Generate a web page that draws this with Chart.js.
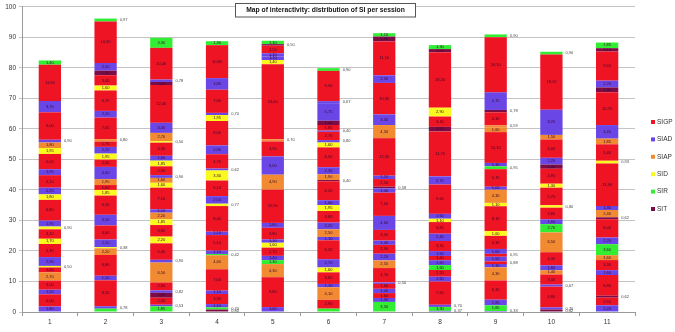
<!DOCTYPE html>
<html>
<head>
<meta charset="utf-8">
<script src="https://cdn.jsdelivr.net/npm/chart.js@4"></script>
<style>
  body { margin: 0; background: #fff; }
  canvas { display: block; }
</style>
</head>
<body>
<canvas id="chart" width="675" height="332"></canvas>
<script>
const sessions = ['1', '2', '3', '4', '5', '6', '7', '8', '9', '10', '11'];
const yTicks = [0, 10, 20, 30, 40, 50, 60, 70, 80, 90, 100];

// segment types, bottom to top: G=SIGP A=SIAD P=SIAP D=SID R=SIR T=SIT
const categoryNames = ['SIGP', 'SIAD', 'SIAP', 'SID', 'SIR', 'SIT'];
const categoryCodes = ['G', 'A', 'P', 'D', 'R', 'T'];
const categoryColors = ['#ee1424', '#6a46e6', '#f28a32', '#fafa1e', '#32ee32', '#7c0c46'];

const s1 = [1.8, 4.0, 1.5, 3.0, 2.7, 1.6, 0.5, 2.9, 4.3, 1.7, 3.1, 0.9, 1.95, 6.8, 1.8, 2.2, 4.1, 1.95, 5.0, 1.95, 1.8, 0.9, 9.0, 3.7, 11.9, 1.4];
const s1Types = 'AGAGPGDAGDGDAGDAGAGDPAGAGR';
const s2 = [1.1, 0.78, 8.5, 1.5, 6.8, 2.2, 0.38, 2.5, 4.6, 3.5, 6.3, 1.85, 1.6, 1.95, 4.0, 2.4, 1.95, 2.2, 1.75, 0.8, 7.05, 2.2, 6.7, 1.6, 3.4, 1.5, 2.5, 13.6, 0.97];
const s2Types = 'RAGAGPDAGAGDGPAGDAGPGAGDGTAGR';
const s3 = [1.85, 0.53, 2.3, 1.6, 0.82, 2.6, 6.5, 0.9, 5.4, 2.2, 3.8, 1.85, 2.2, 1.1, 7.1, 1.6, 1.6, 0.9, 2.9, 1.85, 1.6, 4.3, 0.5, 2.7, 3.3, 12.4, 1.0, 0.78, 10.4, 3.3];
const s3Types = 'RAGTAGPAGDGDPAGDPAGDAGDPAGTAGR';
const s4 = [0.8, 0.7, 1.1, 3.3, 1.1, 7.0, 4.6, 0.42, 1.1, 5.1, 1.1, 8.4, 0.77, 2.5, 5.1, 3.3, 0.62, 4.7, 2.9, 8.0, 1.95, 0.7, 7.6, 3.8, 10.8, 1.3];
const s4Types = 'TRAGAGPRAGAGDAGDAGAGDAGAGR';
const s5 = [1.6, 9.8, 4.3, 1.3, 1.4, 2.7, 1.6, 1.1, 3.8, 1.6, 10.9, 4.9, 6.0, 4.9, 0.7, 24.6, 1.4, 1.1, 1.1, 2.5, 0.5, 1.1];
const s5Types = 'AGPRAGDAGAGPAGPGDAAGTR';
const s6 = [1.1, 2.9, 4.1, 1.1, 3.8, 1.6, 2.7, 6.2, 1.1, 2.5, 2.2, 3.8, 1.95, 1.6, 6.2, 0.4, 1.9, 2.3, 6.5, 1.6, 0.8, 2.7, 0.4, 1.85, 1.4, 5.75, 0.67, 9.9, 0.9];
const s6Types = 'RGPAGDAGAPAGDAGTPAGDAGAGTAAGR';
const s7 = [3.3, 1.3, 1.6, 1.4, 1.6, 0.5, 4.7, 2.5, 2.2, 2.9, 1.4, 3.5, 4.6, 7.6, 1.4, 0.58, 2.5, 1.1, 12.3, 4.3, 3.5, 10.3, 2.5, 11.1, 1.6, 1.1];
const s7Types = 'RAGAGAGPAGAGAGATGAGPAGAGTR';
const s8 = [0.37, 1.3, 0.7, 7.6, 1.6, 2.2, 1.6, 1.6, 1.4, 1.6, 3.3, 2.4, 3.8, 1.1, 1.6, 9.6, 2.7, 14.7, 1.5, 3.4, 2.9, 18.2, 1.0, 1.3];
const s8Types = 'ARAGAGRAGAGAGDAGAGTGDGTR';
const s9 = [0.33, 1.85, 1.85, 6.3, 4.3, 1.1, 0.88, 1.5, 0.95, 1.6, 4.3, 1.6, 8.1, 1.1, 4.3, 1.0, 5.75, 0.95, 1.1, 10.1, 1.6, 0.59, 4.3, 0.78, 5.75, 18.1, 0.9];
const s9Types = 'ARAGPAGAGAGDGDPAGRAGPPGTAGR';
const s10 = [0.82, 0.7, 6.8, 0.67, 3.3, 1.4, 1.6, 4.3, 6.5, 2.7, 1.6, 3.8, 0.8, 5.75, 1.3, 4.9, 1.4, 2.2, 6.0, 1.5, 8.25, 18.1, 0.9];
const s10Types = 'TAGAGPAGPRAGDGDGTAGPAGR';
const s11 = [2.2, 2.5, 0.62, 6.8, 1.6, 3.3, 1.6, 3.6, 2.2, 6.0, 0.62, 2.4, 1.3, 13.9, 0.93, 5.4, 1.85, 4.45, 10.75, 1.6, 2.2, 9.55, 1.1, 1.85];
const s11Types = 'AGTGAGPRAGTPAGDGPAGTAGTR';

const segValues = [s1, s2, s3, s4, s5, s6, s7, s8, s9, s10, s11];
const segTypes = [s1Types, s2Types, s3Types, s4Types, s5Types, s6Types, s7Types, s8Types, s9Types, s10Types, s11Types];

const colorOf = code => categoryColors[categoryCodes.indexOf(code)];
const fmt = v => v.toFixed(2).replace('.', ',');

const layers = Math.max(...segValues.map(s => s.length));
const datasets = [];
for (let k = 0; k < layers; k++) {
  datasets.push({
    label: 'layer' + k,
    data: segValues.map(s => (k < s.length ? s[k] : null)),
    backgroundColor: segTypes.map(t => (k < t.length ? colorOf(t[k]) : 'transparent')),
    barPercentage: 0.4,
    categoryPercentage: 1,
    stack: 'si'
  });
}

// segment value labels
const segLabels = {
  id: 'segLabels',
  afterDatasetsDraw(chart) {
    const ctx = chart.ctx;
    ctx.save();
    ctx.textBaseline = 'middle';
    chart.data.datasets.forEach((ds, di) => {
      const meta = chart.getDatasetMeta(di);
      meta.data.forEach((bar, i) => {
        const v = ds.data[i];
        if (v == null) return;
        const h = Math.abs(bar.base - bar.y);
        const cy = (bar.y + bar.base) / 2;
        if (v < 1) {
          ctx.font = '4px "Liberation Sans"';
          ctx.fillStyle = '#444';
          ctx.textAlign = 'left';
          ctx.fillText(fmt(v), bar.x + bar.width / 2 + 3, cy);
        } else if (h >= 3) {
          ctx.font = '4px "Liberation Sans"';
          ctx.fillStyle = '#3a0a30';
          ctx.textAlign = 'center';
          ctx.fillText(fmt(v), bar.x, cy);
        }
      });
    });
    ctx.restore();
  }
};

// boxed title and legend on the right
const decorations = {
  id: 'decorations',
  afterDraw(chart) {
    const ctx = chart.ctx;
    ctx.save();
    const title = 'Map of interactivity: distribution of SI per session';
    let size = 8;
    ctx.font = 'bold ' + size + 'px "Liberation Sans"';
    while (ctx.measureText(title).width > 162 && size > 4) {
      size -= 0.25;
      ctx.font = 'bold ' + size + 'px "Liberation Sans"';
    }
    ctx.fillStyle = '#fff';
    ctx.fillRect(235.5, 3.5, 180, 13.5);
    ctx.strokeStyle = '#555';
    ctx.lineWidth = 1;
    ctx.strokeRect(235.5, 3.5, 180, 13.5);
    ctx.fillStyle = '#111';
    ctx.textAlign = 'center';
    ctx.textBaseline = 'middle';
    ctx.fillText(title, 325.5, 10.5);

    ctx.font = '6.5px "Liberation Sans"';
    ctx.textAlign = 'left';
    categoryNames.forEach((name, i) => {
      const y = 122 + i * 17.4;
      ctx.fillStyle = categoryColors[i];
      ctx.fillRect(651, y - 2, 4, 4);
      ctx.fillStyle = '#333';
      ctx.fillText(name, 657, y);
    });
    ctx.restore();
  }
};

new Chart(document.getElementById('chart'), {
  type: 'bar',
  data: { labels: sessions, datasets: datasets },
  options: {
    responsive: false,
    devicePixelRatio: 1,
    animation: false,
    layout: { padding: { top: 5, right: 40, left: 0, bottom: 0 } },
    plugins: {
      legend: { display: false },
      tooltip: { enabled: false }
    },
    scales: {
      x: {
        stacked: true,
        grid: { display: true, drawOnChartArea: false, offset: true, tickLength: 4, color: '#999' },
        border: { color: '#999' },
        ticks: { color: '#333', font: { size: 6.5, family: 'Liberation Sans' }, padding: 2 },
        afterFit: s => { s.height = 20; }
      },
      y: {
        stacked: true,
        min: 0,
        max: 100,
        afterBuildTicks: s => { s.ticks = yTicks.map(v => ({ value: v })); },
        grid: { color: '#c4c4c4', tickLength: 3 },
        border: { color: '#999' },
        ticks: { color: '#333', font: { size: 6.5, family: 'Liberation Sans' }, padding: 3 },
        afterFit: s => { s.width = 22; }
      }
    }
  },
  plugins: [segLabels, decorations]
});
</script>
</body>
</html>
